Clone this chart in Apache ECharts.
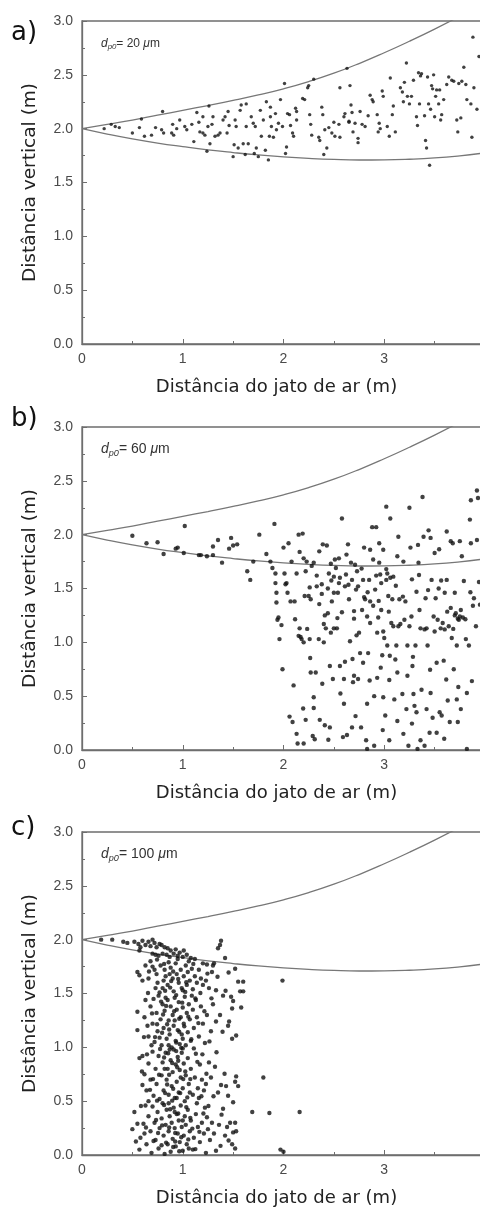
<!DOCTYPE html>
<html>
<head>
<meta charset="utf-8">
<script src="https://cdn.jsdelivr.net/npm/echarts@6/dist/echarts.min.js"></script>
<style>html,body{margin:0;padding:0;background:#fff}#c{width:480px;height:1209px}</style>
</head>
<body>
<div id="c"></div>
<script>
// ---- data ----
const panelLabels = ['a)', 'b)', 'c)'];
const diameters = ['20', '60', '100'];
const xTitle = 'Distância do jato de ar (m)';
const yTitle = 'Distância vertical (m)';

const upperCurve = [[0,2.0],[0.25,2.04],[0.5,2.08],[0.75,2.125],[1,2.17],[1.25,2.215],[1.5,2.262],[1.75,2.313],[2,2.37],[2.25,2.437],[2.5,2.515],[2.75,2.605],[3,2.705],[3.25,2.812],[3.5,2.925],[3.75,3.045],[4,3.17]];
const lowerCurve = [[0,2.0],[0.25,1.95],[0.5,1.905],[0.75,1.866],[1,1.833],[1.25,1.803],[1.5,1.778],[1.75,1.756],[2,1.738],[2.25,1.724],[2.5,1.714],[2.75,1.709],[3,1.71],[3.25,1.716],[3.5,1.728],[3.75,1.748],[4,1.775]];

const pointsA = [[0.22,2.00],[0.29,2.04],[0.33,2.02],[0.37,2.01],[0.50,1.96],[0.57,2.01],[0.59,2.09],[0.62,1.93],[0.69,1.94],[0.73,2.01],[0.79,1.99],[0.80,2.16],[0.81,1.96],[0.89,1.96],[0.90,2.04],[0.91,1.94],[0.94,2.00],[0.97,2.08],[1.02,2.02],[1.04,1.99],[1.09,2.04],[1.11,1.88],[1.14,2.15],[1.16,2.06],[1.17,1.97],[1.20,2.11],[1.20,1.96],[1.22,1.94],[1.24,1.79],[1.25,2.02],[1.26,2.21],[1.27,1.86],[1.29,2.04],[1.30,2.11],[1.32,1.93],[1.35,1.94],[1.37,1.96],[1.40,2.08],[1.42,2.11],[1.44,1.96],[1.45,2.16],[1.46,2.03],[1.50,1.74],[1.51,1.85],[1.52,2.08],[1.53,2.02],[1.55,1.82],[1.57,2.17],[1.58,2.22],[1.60,1.86],[1.62,1.76],[1.63,2.23],[1.63,2.02],[1.65,1.86],[1.68,2.11],[1.70,2.05],[1.71,1.77],[1.72,2.02],[1.73,1.82],[1.75,1.74],[1.77,2.17],[1.78,1.93],[1.80,2.08],[1.82,1.80],[1.83,2.25],[1.85,1.71],[1.86,1.93],[1.87,2.20],[1.87,2.11],[1.88,2.02],[1.90,1.92],[1.92,2.14],[1.93,1.99],[1.95,2.05],[1.97,2.27],[1.99,2.02],[2.01,2.42],[2.02,1.77],[2.03,1.83],[2.04,2.14],[2.06,2.13],[2.07,2.03],[2.09,1.96],[2.10,1.93],[2.12,2.19],[2.13,2.16],[2.13,2.08],[2.19,2.28],[2.21,2.27],[2.24,2.38],[2.25,2.40],[2.26,2.13],[2.27,2.04],[2.28,1.94],[2.30,2.46],[2.35,1.92],[2.36,1.89],[2.38,2.20],[2.39,2.13],[2.40,1.76],[2.41,1.99],[2.43,1.82],[2.45,2.01],[2.48,1.96],[2.50,2.06],[2.51,1.93],[2.55,2.04],[2.56,2.38],[2.56,1.92],[2.60,2.11],[2.61,2.14],[2.63,2.56],[2.65,2.07],[2.65,2.06],[2.66,2.40],[2.67,2.22],[2.68,2.15],[2.69,1.97],[2.71,2.05],[2.74,1.91],[2.74,1.87],[2.76,2.16],[2.78,2.04],[2.81,2.02],[2.84,2.12],[2.86,2.31],[2.88,2.27],[2.89,2.25],[2.93,2.13],[2.94,1.97],[2.95,2.05],[2.96,2.00],[2.98,2.35],[2.99,2.30],[3.03,2.02],[3.05,1.93],[3.06,2.47],[3.08,2.13],[3.09,2.21],[3.11,1.97],[3.16,2.38],[3.18,2.34],[3.19,2.25],[3.20,2.43],[3.22,2.61],[3.23,2.30],[3.25,2.23],[3.27,2.30],[3.29,2.45],[3.32,2.11],[3.33,2.03],[3.34,2.52],[3.35,2.23],[3.36,2.49],[3.37,2.51],[3.40,2.12],[3.41,1.89],[3.42,1.82],[3.43,2.48],[3.44,2.23],[3.45,1.66],[3.46,2.18],[3.47,2.40],[3.48,2.37],[3.49,2.50],[3.50,2.11],[3.51,2.30],[3.52,2.36],[3.54,2.23],[3.55,2.36],[3.56,2.08],[3.57,2.13],[3.59,2.27],[3.62,2.41],[3.64,2.48],[3.67,2.45],[3.69,2.44],[3.72,2.08],[3.73,1.97],[3.74,2.42],[3.76,2.10],[3.77,2.44],[3.79,2.57],[3.81,2.41],[3.82,2.27],[3.86,2.23],[3.87,1.92],[3.88,2.85],[3.89,2.38],[3.92,2.18],[3.94,2.67],[3.99,2.66],[3.99,1.93],[3.98,2.07]];

const pointsB = [[0.50,1.99],[0.64,1.92],[0.75,1.93],[0.81,1.82],[0.93,1.87],[0.95,1.88],[1.01,1.83],[1.02,2.08],[1.16,1.81],[1.18,1.81],[1.24,1.80],[1.30,1.89],[1.30,1.81],[1.35,1.95],[1.39,1.74],[1.46,1.87],[1.48,1.97],[1.50,1.90],[1.54,1.91],[1.64,1.66],[1.67,1.58],[1.70,1.75],[1.76,2.00],[1.83,1.82],[1.87,1.75],[1.89,1.69],[1.91,2.10],[1.92,1.64],[1.92,1.55],[1.93,1.46],[1.93,1.37],[1.94,1.21],[1.95,1.23],[1.96,1.03],[1.98,1.16],[1.99,0.75],[2.00,1.88],[2.01,1.64],[2.02,1.54],[2.03,1.55],[2.04,1.46],[2.05,1.92],[2.06,0.31],[2.07,1.38],[2.08,1.75],[2.09,0.26],[2.10,0.60],[2.11,1.38],[2.13,1.64],[2.13,0.15],[2.14,0.06],[2.15,2.00],[2.15,1.06],[2.16,1.13],[2.16,1.84],[2.18,1.03],[2.19,2.01],[2.20,1.78],[2.20,0.06],[2.21,1.43],[2.22,0.28],[2.23,1.75],[2.25,1.43],[2.26,1.51],[2.27,0.72],[2.28,1.71],[2.29,0.13],[2.30,0.49],[2.30,0.39],[2.31,0.10],[2.32,0.72],[2.33,1.52],[2.35,1.03],[2.36,0.28],[2.38,1.45],[2.39,1.91],[2.40,1.00],[2.40,1.17],[2.41,0.23],[2.42,1.13],[2.43,1.90],[2.44,1.27],[2.45,1.64],[2.46,0.21],[2.46,0.78],[2.47,1.09],[2.48,1.38],[2.49,0.66],[2.50,1.13],[2.50,1.61],[2.51,1.77],[2.52,1.69],[2.53,1.13],[2.54,1.46],[2.55,1.55],[2.56,0.78],[2.58,2.15],[2.59,0.12],[2.60,0.43],[2.60,0.66],[2.61,1.52],[2.63,0.14],[2.64,1.91],[2.65,1.40],[2.66,1.01],[2.67,1.74],[2.68,0.21],[2.69,0.63],[2.70,1.29],[2.71,1.72],[2.72,1.49],[2.73,1.66],[2.74,0.66],[2.75,1.09],[2.76,0.90],[2.77,0.21],[2.78,1.30],[2.79,1.58],[2.79,0.81],[2.80,1.88],[2.81,1.40],[2.82,0.09],[2.83,0.01],[2.83,0.43],[2.84,0.90],[2.85,1.58],[2.86,1.18],[2.88,2.07],[2.89,1.77],[2.89,1.34],[2.90,0.04],[2.91,1.49],[2.92,2.07],[2.93,1.09],[2.93,0.67],[2.94,1.23],[2.95,1.92],[2.96,1.63],[2.97,1.30],[2.98,0.88],[2.99,1.86],[2.99,0.49],[3.00,1.04],[3.01,0.32],[3.02,2.26],[3.03,1.64],[3.03,0.97],[3.04,1.43],[3.05,0.09],[3.06,2.15],[3.07,1.18],[3.08,1.40],[3.09,1.61],[3.09,1.15],[3.10,0.47],[3.11,0.84],[3.12,0.97],[3.13,1.80],[3.13,0.27],[3.14,1.98],[3.15,1.40],[3.16,1.17],[3.18,0.52],[3.19,0.15],[3.19,1.75],[3.20,1.21],[3.21,1.38],[3.22,0.38],[3.23,0.97],[3.23,0.69],[3.24,0.04],[3.25,2.25],[3.26,1.88],[3.27,1.24],[3.28,0.78],[3.29,0.52],[3.30,0.41],[3.31,0.97],[3.32,0.35],[3.32,1.47],[3.33,0.01],[3.34,1.74],[3.35,1.30],[3.36,1.13],[3.36,0.09],[3.37,0.56],[3.38,2.35],[3.39,1.98],[3.40,0.04],[3.41,1.41],[3.42,0.38],[3.42,1.13],[3.43,0.97],[3.44,2.04],[3.45,0.16],[3.46,0.53],[3.46,1.97],[3.47,1.58],[3.48,0.30],[3.49,1.24],[3.50,1.83],[3.51,1.41],[3.52,0.16],[3.52,0.81],[3.53,1.21],[3.54,1.50],[3.55,0.35],[3.56,1.13],[3.57,0.32],[3.58,1.18],[3.59,0.83],[3.60,1.46],[3.62,2.03],[3.62,1.58],[3.63,0.46],[3.64,1.15],[3.65,0.26],[3.66,1.94],[3.66,1.32],[3.67,1.04],[3.68,1.92],[3.69,0.75],[3.70,1.46],[3.71,1.27],[3.72,0.47],[3.72,0.97],[3.73,0.26],[3.74,1.21],[3.75,1.94],[3.76,1.30],[3.76,0.38],[3.77,1.80],[3.78,1.23],[3.79,1.57],[3.81,1.03],[3.82,0.01],[3.82,0.53],[3.84,0.97],[3.85,2.14],[3.86,1.92],[3.86,2.32],[3.87,0.64],[3.88,1.34],[3.89,1.41],[3.91,1.15],[3.92,1.95],[3.92,2.41],[3.93,2.34],[3.94,1.56],[3.95,1.35],
[2.22,1.66],[2.27,1.40],[2.33,1.62],[2.38,1.54],[2.44,1.50],[2.50,1.46],[2.56,1.60],[2.62,1.63],[2.68,1.58],[2.74,1.52],[2.80,1.42],[2.86,1.38],[2.92,1.62],[2.97,1.55],[3.02,1.58],[3.06,1.60],[2.30,1.74],[2.47,1.73],[2.55,1.78],[2.86,1.86],[2.95,1.74],[3.02,1.68],[2.41,1.25],[2.58,1.28],[2.70,1.22],[2.83,1.24],[2.99,1.10],[3.14,1.15],[3.25,1.15],[3.40,1.12],[3.50,1.10],[3.60,1.12],[3.70,1.25],[3.73,1.22],[3.75,1.24],[2.26,1.03],[2.17,1.05],[2.20,1.00],[2.61,0.82],[2.70,0.69],[2.90,0.50],[3.05,0.65],[3.13,0.72],
[2.115,1.215],[2.235,1.125],[2.355,1.355],[2.475,1.575],[2.535,1.225],[2.645,1.535],[2.725,1.065],[2.775,1.685],[2.835,1.465],[2.945,1.385],[3.045,1.285],[3.115,1.525],[3.185,1.425],[3.275,1.585],[3.345,1.625],[3.435,1.485],[3.565,1.575],[3.625,1.285],[3.685,1.125],[3.805,1.215],[3.855,1.465],[2.265,0.855],[2.385,0.615],[2.565,0.525],[2.685,0.845],[2.855,0.645],[2.965,0.765],[3.055,0.875],[3.285,0.865],[3.455,0.745],[3.615,0.655],[3.735,0.585],[2.195,0.385],[2.445,0.095],[2.715,0.315],[2.985,0.185],[3.275,0.245],[3.595,0.105],[2.355,1.845],[2.625,1.815],[3.335,1.905],[3.545,1.865]];

const pointsC = [[0.19,2.00],[0.30,2.00],[0.41,1.98],[0.45,1.97],[0.52,1.98],[0.56,1.96],[0.58,1.93],[0.60,1.99],[0.63,1.95],[0.66,1.98],[0.68,1.94],[0.70,2.00],[0.72,1.97],[0.74,1.93],[0.77,1.96],[0.79,1.95],[0.82,1.93],[0.85,1.92],[0.88,1.90],[0.93,1.91],[0.97,1.88],[1.01,1.90],[1.04,1.86],[0.70,1.87],[0.73,1.86],[0.76,1.85],[0.80,1.87],[0.84,1.86],[0.87,1.84],[0.91,1.87],[0.95,1.85],[1.00,1.84],[1.08,1.83],[1.12,1.82],[1.35,1.92],[1.37,1.95],[1.38,1.99],[1.42,1.83],[1.31,1.78],[1.30,1.76],[1.20,1.78],[1.24,1.77],[1.52,1.73],[0.57,1.90],
[0.55,1.70],[0.57,1.67],[0.60,1.62],[0.66,1.64],[0.68,1.80],[0.70,1.75],[0.72,1.72],[0.74,1.68],[0.75,1.60],[0.78,1.76],[0.80,1.55],[0.82,1.72],[0.83,1.66],[0.85,1.58],[0.86,1.79],[0.88,1.74],[0.90,1.64],[0.91,1.52],[0.93,1.78],[0.94,1.68],[0.96,1.60],[0.98,1.72],[0.99,1.55],[1.01,1.66],[1.03,1.76],[1.04,1.58],[1.05,1.70],[1.07,1.62],[1.09,1.73],[1.10,1.54],[1.12,1.66],[1.14,1.60],[1.16,1.72],[1.18,1.64],[1.20,1.58],[1.23,1.62],[1.26,1.55],[1.29,1.70],[1.33,1.53],[1.40,1.48],[1.48,1.47],[1.60,1.61],[1.60,1.52],[0.73,1.55],[0.77,1.51],[0.95,1.82],[1.06,1.80],[0.63,1.76],[1.00,1.53],[0.87,1.68],[0.81,1.62],
[0.55,1.33],[0.55,1.16],[0.63,1.44],[0.62,1.28],[0.66,1.10],[0.68,1.38],[0.70,1.22],[0.71,1.45],[0.72,1.05],[0.74,1.32],[0.75,1.15],[0.76,1.48],[0.78,1.26],[0.79,1.02],[0.80,1.40],[0.81,1.18],[0.82,1.34],[0.84,1.08],[0.85,1.44],[0.86,1.25],[0.87,1.12],[0.88,1.38],[0.89,1.00],[0.90,1.30],[0.91,1.20],[0.92,1.46],[0.93,1.06],[0.94,1.35],[0.95,1.16],[0.96,1.42],[0.97,1.03],[0.98,1.28],[0.99,1.12],[1.00,1.37],[1.01,1.22],[1.02,1.47],[1.03,1.02],[1.04,1.32],[1.05,1.14],[1.06,1.40],[1.07,1.26],[1.08,1.06],[1.10,1.35],[1.11,1.18],[1.13,1.44],[1.14,1.28],[1.16,1.10],[1.18,1.38],[1.20,1.22],[1.22,1.04],[1.24,1.30],[1.28,1.15],[1.30,1.40],[1.33,1.24],[1.37,1.30],[1.45,1.20],[1.46,1.24],[1.49,1.36],[1.50,1.43],[1.58,1.37],[1.53,1.11],[1.49,1.08],[0.69,1.02],[0.77,1.09],[0.83,1.46],[0.86,1.02],[0.92,1.25],[1.00,1.08],[1.09,1.48],[0.65,1.20],
[0.57,0.90],[0.60,0.92],[0.62,0.75],[0.64,0.60],[0.66,0.85],[0.68,0.70],[0.70,0.96],[0.71,0.55],[0.73,0.80],[0.74,0.66],[0.76,0.92],[0.77,0.52],[0.79,0.74],[0.80,0.86],[0.81,0.60],[0.83,0.95],[0.84,0.70],[0.85,0.80],[0.86,0.56],[0.88,0.88],[0.89,0.64],[0.90,0.77],[0.91,0.98],[0.92,0.53],[0.93,0.84],[0.94,0.68],[0.95,0.91],[0.96,0.58],[0.97,0.79],[0.98,0.72],[0.99,0.95],[1.00,0.62],[1.01,0.85],[1.02,0.50],[1.03,0.74],[1.05,0.90],[1.06,0.66],[1.08,0.80],[1.10,0.56],[1.12,0.72],[1.13,0.94],[1.15,0.62],[1.17,0.84],[1.19,0.70],[1.21,0.60],[1.23,0.66],[1.26,0.86],[1.28,0.72],[1.32,0.82],[1.35,0.58],[1.38,0.65],[1.45,0.55],[1.52,0.68],[1.53,0.73],[1.50,0.49],[0.60,0.65],[0.66,0.50],[0.87,0.98],[1.00,0.99],[1.11,0.99],[0.94,0.53],[0.82,0.80],[1.07,0.58],[1.16,0.53],
[0.50,0.24],[0.52,0.40],[0.55,0.29],[0.57,0.05],[0.58,0.16],[0.61,0.29],[0.63,0.46],[0.64,0.10],[0.66,0.36],[0.68,0.22],[0.69,0.02],[0.70,0.45],[0.72,0.30],[0.73,0.14],[0.75,0.40],[0.76,0.06],[0.77,0.25],[0.79,0.34],[0.80,0.48],[0.81,0.18],[0.82,0.01],[0.83,0.28],[0.84,0.42],[0.85,0.10],[0.86,0.22],[0.87,0.36],[0.88,0.03],[0.89,0.30],[0.90,0.15],[0.91,0.44],[0.92,0.25],[0.93,0.08],[0.94,0.38],[0.95,0.20],[0.96,0.32],[0.97,0.12],[0.98,0.46],[0.99,0.26],[1.00,0.04],[1.01,0.18],[1.02,0.36],[1.03,0.28],[1.04,0.10],[1.05,0.42],[1.07,0.22],[1.08,0.32],[1.10,0.05],[1.11,0.16],[1.13,0.38],[1.15,0.26],[1.17,0.12],[1.19,0.30],[1.21,0.20],[1.23,0.02],[1.24,0.35],[1.25,0.24],[1.27,0.14],[1.29,0.30],[1.31,0.20],[1.33,0.04],[1.36,0.28],[1.40,0.43],[1.42,0.18],[1.44,0.26],[1.47,0.30],[1.49,0.10],[1.50,0.21],[1.52,0.30],[1.52,0.06],[1.53,0.22],[0.71,0.13],[0.79,0.09],[0.86,0.48],[0.92,0.40],[1.00,0.32],[1.06,0.06],[1.14,0.48],[1.22,0.44],[0.62,0.20],
[1.99,1.62],[1.80,0.72],[1.69,0.40],[1.86,0.39],[2.16,0.40],[1.97,0.05],[2.00,0.03],[1.55,1.61],[1.57,1.52],[1.43,0.64],[1.55,0.64],
[0.745,1.815],[0.815,1.775],[0.905,1.705],[0.955,1.635],[1.035,1.605],[0.875,1.555],[0.785,1.425],[0.835,1.385],[0.915,1.335],[0.965,1.265],[1.015,1.195],[0.865,1.165],[0.795,1.135],[0.725,1.095],[0.935,1.045],[0.985,0.995],[0.855,0.945],[0.815,0.905],[0.895,0.855],[0.945,0.815],[1.025,0.775],[0.765,0.745],[0.705,0.705],[0.845,0.655],[0.905,0.615],[0.975,0.575],[1.045,0.535],[0.745,0.505],[0.815,0.465],[0.875,0.425],[0.955,0.385],[1.075,0.345],[0.735,0.325],[0.795,0.275],[0.865,0.255],[0.925,0.205],[0.985,0.165],[1.055,0.145],[0.835,0.115],[0.905,0.075],[0.965,0.035],[1.125,0.055],[1.165,0.215],[1.205,0.385],[1.255,0.455],[1.185,0.545],[1.235,0.755],[1.145,0.865],[1.195,0.935],[1.265,1.055],[1.155,1.225],[1.215,1.335],[1.125,1.455],[1.175,1.505],[1.245,1.685],[1.105,1.775],[0.655,1.505],[0.615,1.095],[0.595,0.775],[0.585,0.455],[0.635,0.255],[0.535,0.125],[0.675,0.605],[0.645,0.935],[0.695,1.315],[0.665,1.705],[1.345,1.655],[1.285,1.455],[1.395,1.145],[1.335,0.955],[1.415,0.755],[1.305,0.545],[1.385,0.375],[1.455,0.135],[1.375,0.085],[1.425,1.525],[1.455,1.695],[0.885,1.615],[0.935,1.485],[0.995,1.415],[1.055,1.285],[0.845,1.215],[0.775,0.985],[0.955,0.875],[1.075,0.705],[0.825,0.575],[0.895,0.505],[1.035,0.445],[1.095,0.245],[0.755,0.205],[0.925,0.125],[1.005,0.705],[0.865,0.745],[0.935,0.965],[1.085,1.075],[0.965,1.145],[0.805,1.305],[0.745,1.215],[1.025,1.515],[0.825,1.525]];

const pointSets = [pointsA, pointsB, pointsC];
const symbolSizes = [3.4, 4.4, 4.4];

// ---- layout ----
const gridTops = [21, 427, 832];
const labelTops = [20, 406, 815];
const noteFont = [12, 14, 14];

const chart = echarts.init(document.getElementById('c'), null, {renderer: 'canvas'});
const axisGrey = '#6e6e6e';
const grids = [], xAxes = [], yAxes = [], series = [], graphics = [];

gridTops.forEach((top, i) => {
  grids.push({left: 82, top: top, width: 403, height: 323, show: true, borderColor: axisGrey, borderWidth: 1.3, backgroundColor: 'transparent', containLabel: false, outerBoundsMode: 'none'});
  xAxes.push({
    gridIndex: i, type: 'value', min: 0, max: 4, interval: 1,
    name: xTitle, nameLocation: 'middle', nameGap: 34,
    nameTextStyle: {fontFamily: 'DejaVu Sans', fontSize: 18, color: '#222', padding: [0, 14, 0, 0]},
    axisLine: {show: true, onZero: false, lineStyle: {color: axisGrey, width: 1.3}},
    axisTick: {show: true, inside: true, length: 5, lineStyle: {color: axisGrey}},
    minorTick: {show: true, splitNumber: 2, length: 3, lineStyle: {color: axisGrey}},
    axisLabel: {fontFamily: 'Liberation Sans', fontSize: 14, color: '#4a4a4a', margin: 8, hideOverlap: false},
    splitLine: {show: false}
  });
  yAxes.push({
    gridIndex: i, type: 'value', min: 0, max: 3, interval: 0.5,
    name: yTitle, nameLocation: 'middle', nameGap: 42,
    nameTextStyle: {fontFamily: 'DejaVu Sans', fontSize: 18.5, color: '#222'},
    axisLine: {show: true, onZero: false, lineStyle: {color: axisGrey, width: 1.3}},
    axisTick: {show: true, inside: true, length: 5, lineStyle: {color: axisGrey}},
    minorTick: {show: true, splitNumber: 2, length: 3, lineStyle: {color: axisGrey}},
    axisLabel: {fontFamily: 'Liberation Sans', fontSize: 14, color: '#4a4a4a', margin: 9, formatter: v => v.toFixed(1)},
    splitLine: {show: false}
  });
  series.push({type: 'line', xAxisIndex: i, yAxisIndex: i, data: upperCurve, smooth: true, showSymbol: false, clip: true, lineStyle: {color: '#777', width: 1.3}, z: 2});
  series.push({type: 'line', xAxisIndex: i, yAxisIndex: i, data: lowerCurve, smooth: true, showSymbol: false, clip: true, lineStyle: {color: '#777', width: 1.3}, z: 2});
  series.push({type: 'scatter', xAxisIndex: i, yAxisIndex: i, data: pointSets[i], symbolSize: symbolSizes[i], itemStyle: {color: '#111'}, z: 3, clip: true});
  graphics.push({type: 'text', left: 11, top: labelTops[i], style: {text: panelLabels[i], font: '26px "DejaVu Sans"', fill: '#111'}});
  const f = noteFont[i];
  graphics.push({type: 'text', left: 101, top: top + 22 - f/2 - 1, style: {
    text: '{d|d}{s|p0}{n|= ' + diameters[i] + ' }{m|μ}{n|m}',
    rich: {
      d: {fontFamily: 'Liberation Sans', fontStyle: 'italic', fontSize: f, fill: '#333', lineHeight: f + 2},
      s: {fontFamily: 'Liberation Sans', fontStyle: 'italic', fontSize: f * 0.65, fill: '#333', padding: [f * 0.55, 0, 0, 0], lineHeight: f + 2},
      n: {fontFamily: 'Liberation Sans', fontSize: f, fill: '#333', lineHeight: f + 2},
      m: {fontFamily: 'Liberation Sans', fontStyle: 'italic', fontSize: f, fill: '#333', lineHeight: f + 2}
    }
  }});
});

chart.setOption({
  animation: false,
  backgroundColor: '#fff',
  grid: grids, xAxis: xAxes, yAxis: yAxes, series: series, graphic: graphics
});
</script>
</body>
</html>
